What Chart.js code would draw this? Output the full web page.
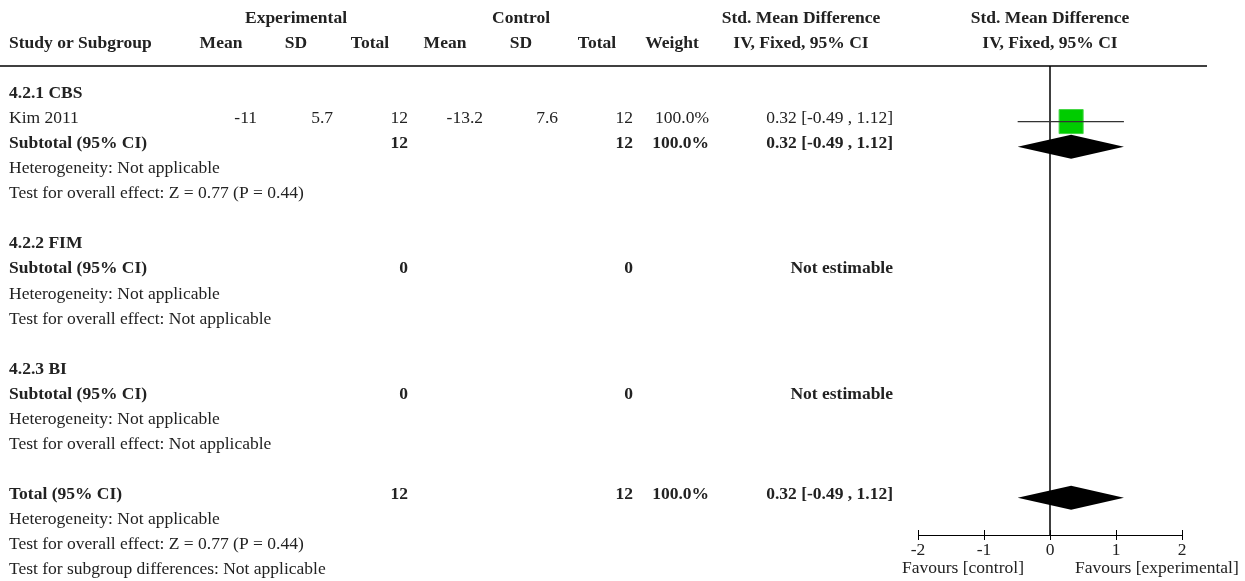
<!DOCTYPE html>
<html>
<head>
<meta charset="utf-8">
<script src="https://cdn.jsdelivr.net/npm/chart.js@4.4.1/dist/chart.umd.min.js"></script>
<style>
  html, body { margin: 0; padding: 0; background: #fff; }
  canvas { display: block; }
</style>
</head>
<body>
<canvas id="forest" width="1245" height="581"></canvas>
<script>
// studies
const studyNames = ["Kim 2011"];
const studyGroup = [0];
const expMean = [-11];
const expSD = [5.7];
const expN = [12];
const ctrlMean = [-13.2];
const ctrlSD = [7.6];
const ctrlN = [12];
const studyWeight = [100.0];
const studySMD = [0.32];
const studyLow = [-0.49];
const studyHigh = [1.12];

// subgroups
const subgroupNames = ["4.2.1 CBS", "4.2.2 FIM", "4.2.3 BI"];
const subExpN = [12, 0, 0];
const subCtrlN = [12, 0, 0];
const subWeight = [100.0, null, null];
const subSMD = [0.32, null, null];
const subLow = [-0.49, null, null];
const subHigh = [1.12, null, null];
const subHetero = ["Not applicable", "Not applicable", "Not applicable"];
const subEffect = ["Z = 0.77 (P = 0.44)", "Not applicable", "Not applicable"];

// overall
const totalExpN = 12;
const totalCtrlN = 12;
const totalWeight = 100.0;
const totalSMD = 0.32;
const totalLow = -0.49;
const totalHigh = 1.12;
const totalHetero = "Not applicable";
const totalEffect = "Z = 0.77 (P = 0.44)";
const subgroupDiff = "Not applicable";

const axisTicks = [-2, -1, 0, 1, 2];

// column layout of the table part
const COL = { expMean: 257, expSD: 333, expN: 408, ctrlMean: 483, ctrlSD: 558, ctrlN: 633, weight: 709, ci: 893 };
const HEAD = { expMean: 221, expSD: 296, expN: 370, ctrlMean: 445, ctrlSD: 521, ctrlN: 597, weight: 672, ci: 801 };
const FONT = '"Liberation Serif", "Times New Roman", serif';
const TEXT_COLOR = "#222";
const DIAMOND_HALF = 12;

const fmt2 = (v) => v.toFixed(2);
const ciText = (m, lo, hi) => fmt2(m) + " [" + fmt2(lo) + " , " + fmt2(hi) + "]";
const pct = (w) => w.toFixed(1) + "%";

// build the table rows
const rows = [];
const squares = [];
const whiskers = [];
const diamonds = [];
let r = 0;
subgroupNames.forEach((name, g) => {
  rows.push({ r: r++, bold: true, label: name });
  studyNames.forEach((s, i) => {
    if (studyGroup[i] !== g) return;
    rows.push({
      r, label: s,
      cells: {
        expMean: String(expMean[i]), expSD: String(expSD[i]), expN: String(expN[i]),
        ctrlMean: String(ctrlMean[i]), ctrlSD: String(ctrlSD[i]), ctrlN: String(ctrlN[i]),
        weight: pct(studyWeight[i]), ci: ciText(studySMD[i], studyLow[i], studyHigh[i]),
      },
    });
    squares.push({ x: studySMD[i], y: r });
    whiskers.push([{ x: studyLow[i], y: r }, { x: studyHigh[i], y: r }]);
    r++;
  });
  const est = subSMD[g] !== null;
  rows.push({
    r, bold: true, label: "Subtotal (95% CI)",
    cells: {
      expN: String(subExpN[g]), ctrlN: String(subCtrlN[g]),
      weight: est ? pct(subWeight[g]) : "",
      ci: est ? ciText(subSMD[g], subLow[g], subHigh[g]) : "Not estimable",
    },
  });
  if (est) diamonds.push({ r, m: subSMD[g], lo: subLow[g], hi: subHigh[g] });
  r++;
  rows.push({ r: r++, label: "Heterogeneity: " + subHetero[g] });
  rows.push({ r: r++, label: "Test for overall effect: " + subEffect[g] });
  r++;
});
rows.push({
  r, bold: true, label: "Total (95% CI)",
  cells: { expN: String(totalExpN), ctrlN: String(totalCtrlN), weight: pct(totalWeight), ci: ciText(totalSMD, totalLow, totalHigh) },
});
diamonds.push({ r, m: totalSMD, lo: totalLow, hi: totalHigh });
r++;
rows.push({ r: r++, label: "Heterogeneity: " + totalHetero });
rows.push({ r: r++, label: "Test for overall effect: " + totalEffect });
rows.push({ r: r++, label: "Test for subgroup differences: " + subgroupDiff });

const forestPlugin = {
  id: "forest",
  beforeDatasetsDraw(chart) {
    const { ctx, chartArea, scales } = chart;
    ctx.save();
    ctx.strokeStyle = "#000";
    // rule under the header
    ctx.lineWidth = 1.5;
    ctx.beginPath();
    ctx.moveTo(0, chartArea.top);
    ctx.lineTo(1207, chartArea.top);
    ctx.stroke();
    // line of no effect
    const x0 = scales.x.getPixelForValue(0);
    ctx.beginPath();
    ctx.moveTo(x0, chartArea.top);
    ctx.lineTo(x0, chartArea.bottom);
    ctx.stroke();
    ctx.restore();
  },
  afterDatasetsDraw(chart) {
    const { ctx, scales } = chart;
    ctx.save();
    ctx.fillStyle = "#000";
    diamonds.forEach((d) => {
      const yc = scales.y.getPixelForValue(d.r);
      ctx.beginPath();
      ctx.moveTo(scales.x.getPixelForValue(d.lo), yc);
      ctx.lineTo(scales.x.getPixelForValue(d.m), yc - DIAMOND_HALF);
      ctx.lineTo(scales.x.getPixelForValue(d.hi), yc);
      ctx.lineTo(scales.x.getPixelForValue(d.m), yc + DIAMOND_HALF);
      ctx.closePath();
      ctx.fill();
    });
    ctx.restore();
  },
  afterDraw(chart) {
    const { ctx, chartArea, scales } = chart;
    const ys = scales.y;
    const text = (s, x, row, align, bold) => {
      ctx.font = (bold ? "bold " : "") + "17.5px " + FONT;
      ctx.textAlign = align;
      ctx.fillText(s, x, ys.getPixelForValue(row) + 1.5);
    };
    ctx.save();
    ctx.fillStyle = TEXT_COLOR;
    ctx.textBaseline = "alphabetic";

    // header
    const mid = (chartArea.left + chartArea.right) / 2;
    text("Experimental", HEAD.expSD, -3, "center", true);
    text("Control", HEAD.ctrlSD, -3, "center", true);
    text("Std. Mean Difference", HEAD.ci, -3, "center", true);
    text("Std. Mean Difference", mid, -3, "center", true);
    text("Study or Subgroup", 9, -2, "left", true);
    text("Mean", HEAD.expMean, -2, "center", true);
    text("SD", HEAD.expSD, -2, "center", true);
    text("Total", HEAD.expN, -2, "center", true);
    text("Mean", HEAD.ctrlMean, -2, "center", true);
    text("SD", HEAD.ctrlSD, -2, "center", true);
    text("Total", HEAD.ctrlN, -2, "center", true);
    text("Weight", HEAD.weight, -2, "center", true);
    text("IV, Fixed, 95% CI", HEAD.ci, -2, "center", true);
    text("IV, Fixed, 95% CI", mid, -2, "center", true);

    // body
    rows.forEach((row) => {
      text(row.label, 9, row.r, "left", row.bold);
      if (!row.cells) return;
      Object.keys(row.cells).forEach((k) => {
        if (row.cells[k]) text(row.cells[k], COL[k], row.r, "right", row.bold);
      });
    });

    // upper halves of the axis ticks
    const axisY = chartArea.bottom;
    ctx.strokeStyle = "#000";
    ctx.lineWidth = 1;
    axisTicks.forEach((t) => {
      const px = Math.round(scales.x.getPixelForValue(t)) + 0.5;
      ctx.beginPath();
      ctx.moveTo(px, axisY - 5);
      ctx.lineTo(px, axisY);
      ctx.stroke();
    });

    // favours labels
    const x0 = scales.x.getPixelForValue(0);
    ctx.font = "17.5px " + FONT;
    ctx.textAlign = "right";
    ctx.fillText("Favours [control]", x0 - 26, 573);
    ctx.textAlign = "left";
    ctx.fillText("Favours [experimental]", x0 + 25, 573);
    ctx.restore();
  },
};

const datasets = [];
whiskers.forEach((w) => {
  datasets.push({
    type: "line",
    data: w,
    borderColor: "#333",
    borderWidth: 1.2,
    pointRadius: 0,
    showLine: true,
  });
});
datasets.push({
  type: "scatter",
  data: squares,
  pointStyle: "rect",
  pointRadius: 17,
  backgroundColor: "#00cc00",
  borderColor: "#45d645",
  borderWidth: 1,
});

new Chart(document.getElementById("forest"), {
  type: "scatter",
  data: { datasets },
  options: {
    responsive: false,
    animation: false,
    events: [],
    layout: { padding: { left: 918, right: 63, top: 66, bottom: 6 } },
    plugins: { legend: { display: false }, tooltip: { enabled: false } },
    scales: {
      x: {
        type: "linear",
        min: axisTicks[0],
        max: axisTicks[axisTicks.length - 1],
        afterBuildTicks: (scale) => { scale.ticks = axisTicks.map((v) => ({ value: v })); },
        afterFit: (scale) => { scale.height = 40; },
        grid: { drawOnChartArea: false, drawTicks: true, tickLength: 5, color: "#000" },
        border: { display: true, color: "#000", width: 1 },
        ticks: { color: TEXT_COLOR, padding: 0, font: { family: FONT, size: 17.5 } },
      },
      y: {
        type: "linear",
        display: false,
        reverse: true,
        min: -1.216,
        max: 17.49,
      },
    },
  },
  plugins: [forestPlugin],
});
</script>
</body>
</html>
